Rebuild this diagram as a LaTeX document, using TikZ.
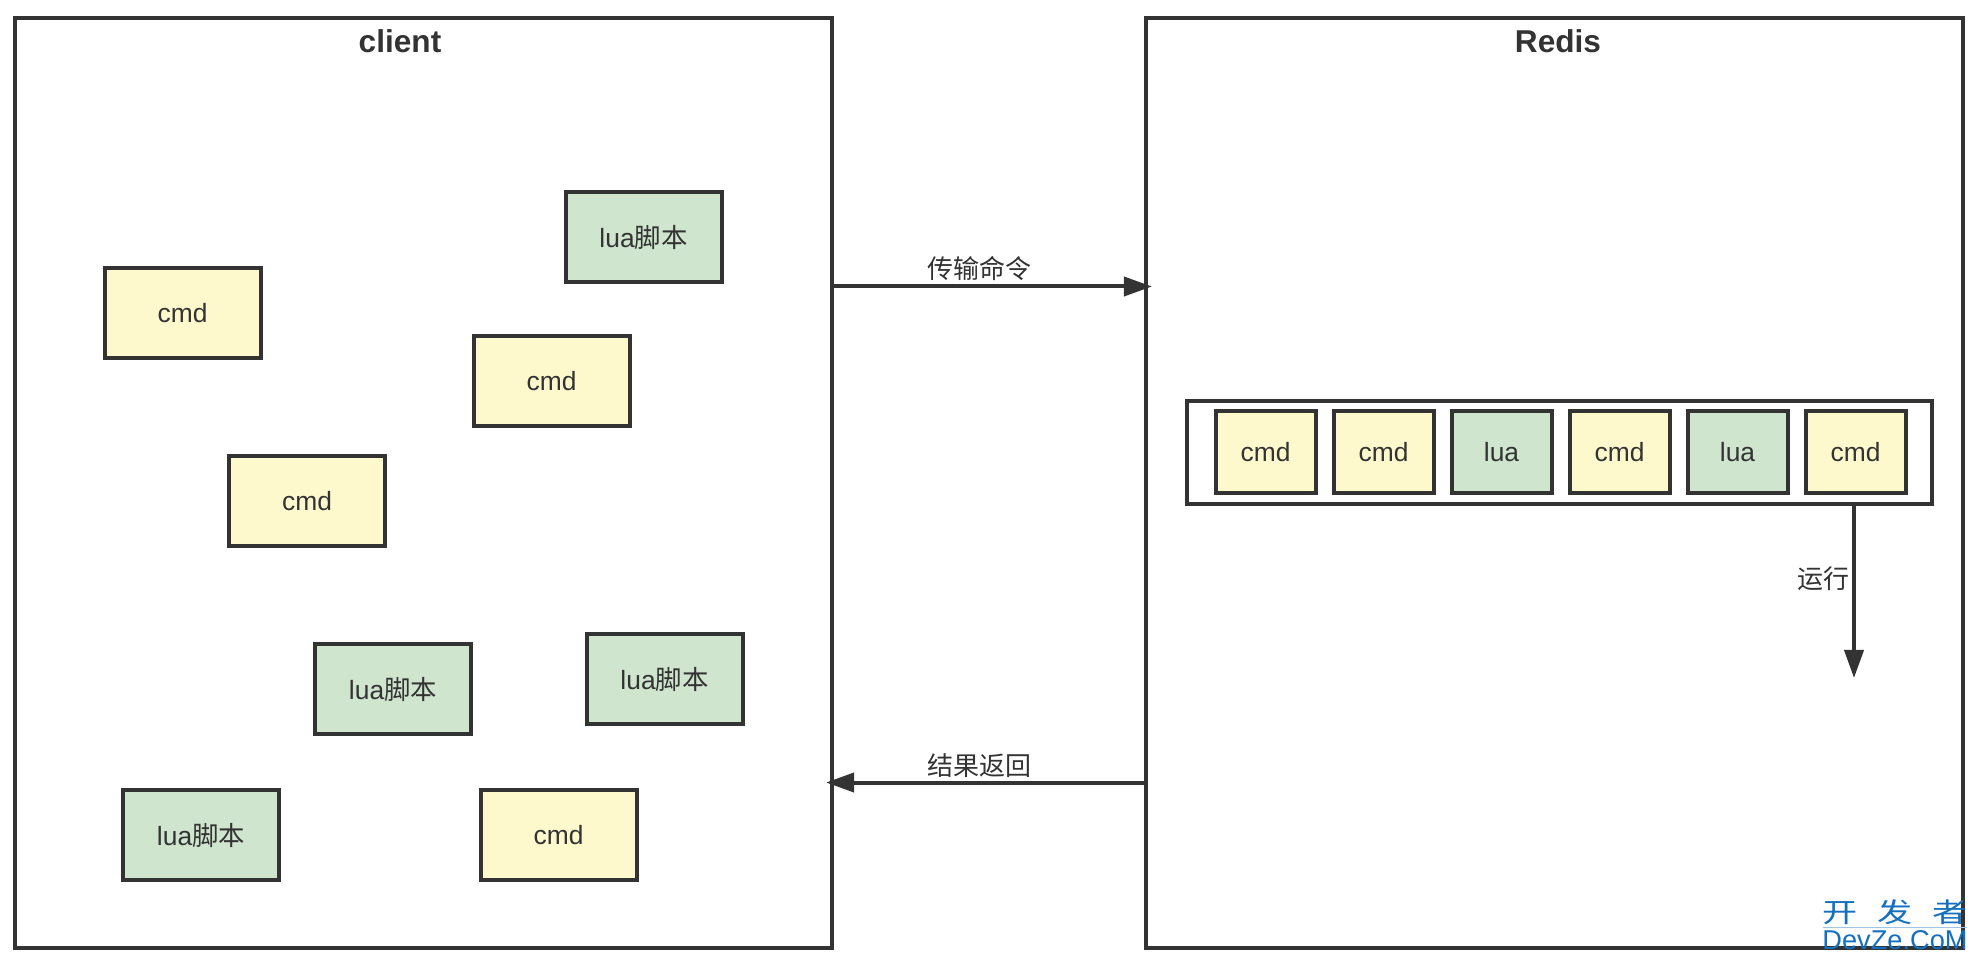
\documentclass[tikz,border=0pt]{standalone}
\usepackage{fontspec}
\setmainfont{Liberation Sans}
\newfontfamily\cjk{Noto Sans CJK SC}
\usetikzlibrary{arrows.meta,calc}
\definecolor{ink}{HTML}{333333}
\definecolor{ylw}{HTML}{FEF9CC}
\definecolor{grn}{HTML}{CFE5CE}
\definecolor{wm}{HTML}{1470BE}
\tikzset{
  x=0.5pt,y=-0.5pt,
  every node/.style={text=ink,inner sep=0pt,outer sep=0pt},
  panel/.style={draw=ink,line width=2pt,fill=white,minimum width=408.2pt,minimum height=464.5pt},
  ptitle/.style={font=\fontsize{15.8}{16}\selectfont\bfseries},
  scat/.style={draw=ink,line width=2pt,minimum width=78pt,minimum height=45pt,font=\fontsize{13.2}{13.2}\selectfont},
  cell/.style={draw=ink,line width=2pt,minimum width=50pt,minimum height=41pt,font=\fontsize{13.2}{13.2}\selectfont},
  cmdbox/.style={fill=ylw},
  luabox/.style={fill=grn},
  queue/.style={draw=ink,line width=2pt,fill=white,minimum width=372.5pt,minimum height=51.5pt},
  lbl/.style={font=\fontsize{13}{13}\selectfont\cjk},
  flow/.style={draw=ink,line width=2pt,-{Triangle[length=14pt,width=9.5pt,fill=ink]},shorten >=-2.8pt},
}
\begin{document}
\begin{tikzpicture}
\useasboundingbox (0,0) rectangle (1978,962);
\node[panel] (client) at (423.5,483) {};
\node[panel] (redis) at (1554.5,483) {};
\node[ptitle] (tclient) at (400,41) {client};
\node[ptitle] (tredis) at (1558,41) {Redis};
% client scattered
\node[scat,luabox] (l1) at (643.5,237) {lua{\cjk 脚本}};
\node[scat,cmdbox] (c1) at (182.5,313) {cmd};
\node[scat,cmdbox] (c2) at (551.5,381) {cmd};
\node[scat,cmdbox] (c3) at (307,501) {cmd};
\node[scat,luabox] (l2) at (393,689) {lua{\cjk 脚本}};
\node[scat,luabox] (l3) at (664.5,679) {lua{\cjk 脚本}};
\node[scat,luabox] (l4) at (201,835) {lua{\cjk 脚本}};
\node[scat,cmdbox] (c4) at (558.5,835) {cmd};
% queue
\node[queue] (q) at (1559.5,452.5) {};
\node[cell,cmdbox] (q1) at (1265.5,452.5) {cmd};
\node[cell,cmdbox] (q2) at (1383.5,452.5) {cmd};
\node[cell,luabox] (q3) at (1501.5,452.5) {lua};
\node[cell,cmdbox] (q4) at (1619.5,452.5) {cmd};
\node[cell,luabox] (q5) at (1737.5,452.5) {lua};
\node[cell,cmdbox] (q6) at (1855.5,452.5) {cmd};
% connectors
\coordinate (outA) at (client.east |- 0,286.5);
\coordinate (inA) at (redis.west |- 0,286.5);
\coordinate (outB) at (redis.west |- 0,782.5);
\coordinate (inB) at (client.east |- 0,782.5);
\coordinate (run0) at (1854,504);
\coordinate (run1) at (1854,678);
\draw[flow] (outA) -- (inA);
\draw[flow] (outB) -- (inB);
\draw[flow,shorten >=0pt] (run0) -- (run1);
\node[lbl] (t1) at (979,269) {传输命令};
\node[lbl] (t2) at (979,766) {结果返回};
\node[lbl] (t3) at (1823,579) {运行};
% watermark
\node[text=wm,font=\fontsize{13.5}{13.5}\selectfont\cjk,xscale=1.3] (w1) at (1895,912.5) {开\hspace{7.6pt}发\hspace{7.6pt}者};
\coordinate (wa) at (1823,927.5);
\coordinate (wb) at (1967,927.5);
\draw[wm!40,line width=0.5pt] (wa) -- (wb);
\node[text=wm,font=\fontsize{13.6}{13.6}\selectfont] (w2) at (1895,940.5) {DevZe.CoM};
\end{tikzpicture}
\end{document}
